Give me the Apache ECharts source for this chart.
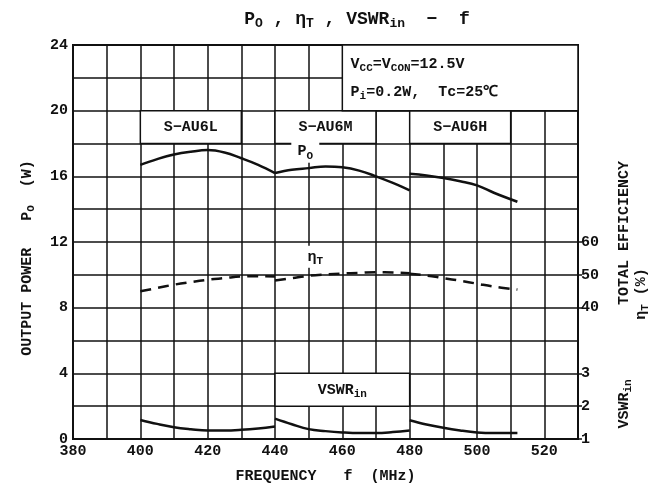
<!DOCTYPE html>
<html>
<head>
<meta charset="utf-8">
<script src="https://cdn.jsdelivr.net/npm/echarts@6/dist/echarts.min.js"></script>
<style>
  html, body { margin: 0; padding: 0; background: #fff; }
  #chart { width: 650px; height: 489px; }
</style>
</head>
<body>
<div id="chart"></div>
<script>
// frequency points (MHz) and readings for each device
const freqL = [400, 405, 410, 415, 420, 425, 430, 435, 440];
const freqM = [440, 445, 450, 455, 460, 465, 470, 475, 480];
const freqH = [480, 485, 490, 495, 500, 505, 512];

const poL = [16.7, 17.05, 17.33, 17.5, 17.6, 17.45, 17.1, 16.7, 16.2];
const poM = [16.2, 16.4, 16.5, 16.6, 16.55, 16.35, 16.0, 15.6, 15.15];
const poH = [16.15, 16.05, 15.9, 15.7, 15.45, 15.0, 14.45];

const etaL = [45.0, 46.0, 47.0, 47.8, 48.5, 49.0, 49.5, 49.6, 49.5];
const etaM = [48.3, 49.0, 49.7, 50.1, 50.4, 50.6, 50.8, 50.7, 50.5];
const etaH = [50.3, 49.8, 49.0, 48.2, 47.3, 46.4, 45.5];

const vswrL = [1.58, 1.46, 1.36, 1.3, 1.26, 1.26, 1.28, 1.32, 1.38];
const vswrM = [1.62, 1.45, 1.3, 1.24, 1.2, 1.18, 1.18, 1.21, 1.26];
const vswrH = [1.57, 1.44, 1.34, 1.26, 1.2, 1.18, 1.18];

const xTicks = [380, 400, 420, 440, 460, 480, 500, 520];
const poTicks = [0, 4, 8, 12, 16, 20, 24];
const etaTicks = [40, 50, 60];
const vswrTicks = [1, 2, 3];

const FONT = 'Liberation Mono';
const INK = '#111';

const pairs = (xs, ys) => xs.map((x, i) => [x, ys[i]]);

// rich styles: normal text + subscript (series labels use color, graphic uses fill)
const richFor = (size, key) => ({
  t: { fontFamily: FONT, fontSize: size, [key]: INK, fontWeight: 'bold', lineHeight: 28 },
  s: { fontFamily: FONT, fontSize: size - 4, [key]: INK, fontWeight: 'bold', lineHeight: 10, verticalAlign: 'bottom', padding: [0, 0, 4, 0] }
});

const chart = echarts.init(document.getElementById('chart'), null, { renderer: 'canvas' });

const solid = (data, yIdx) => ({
  type: 'line', data, yAxisIndex: yIdx, smooth: 0.4, symbol: 'none',
  lineStyle: { color: INK, width: 2.5 }, z: 5
});
const dashed = (data) => ({
  type: 'line', data, yAxisIndex: 1, smooth: 0.4, symbol: 'none',
  lineStyle: { color: INK, width: 2.5, type: [11, 7] }, z: 5
});

const option = {
  animation: false,
  backgroundColor: '#fff',
  title: {
    text: '{t|P}{s|O}{t| , }{t|η}{s|T}{t| , VSWR}{s|in}{t|  −  f}',
    left: 352, top: 3, textAlign: 'center',
    textStyle: {
      rich: {
        t: { fontFamily: FONT, fontSize: 18, color: INK },
        s: { fontFamily: FONT, fontSize: 13, color: INK, verticalAlign: 'bottom', padding: [9, 0, 0, 0] }
      }
    }
  },
  grid: { left: 73, right: 72, top: 45, bottom: 48, show: true, borderColor: INK, borderWidth: 2 },
  xAxis: {
    type: 'value', min: 380, max: 530, interval: 10,
    name: 'FREQUENCY   f  (MHz)', nameLocation: 'middle', nameGap: 30,
    nameTextStyle: { fontFamily: FONT, fontSize: 15, color: INK, fontWeight: 'bold' },
    axisLine: { show: true, lineStyle: { color: INK, width: 2 } },
    axisTick: { show: false },
    splitLine: { show: true, lineStyle: { color: INK, width: 1.5 } },
    axisLabel: { customValues: xTicks, fontFamily: FONT, fontSize: 15, color: INK, margin: 5, fontWeight: 'bold' }
  },
  yAxis: [
    {
      type: 'value', min: 0, max: 24, interval: 2,
      axisLine: { show: true, lineStyle: { color: INK, width: 2 } },
      axisTick: { show: false },
      splitLine: { show: true, lineStyle: { color: INK, width: 1.5 } },
      axisLabel: { customValues: poTicks, fontFamily: FONT, fontSize: 15, color: INK, margin: 5, fontWeight: 'bold' }
    },
    {
      type: 'value', min: 0, max: 120, position: 'right',
      axisLine: { show: false },
      axisTick: { show: true, customValues: etaTicks, length: 4, lineStyle: { color: INK, width: 1.5 } },
      splitLine: { show: false },
      axisLabel: { customValues: etaTicks, fontFamily: FONT, fontSize: 15, color: INK, margin: 3, fontWeight: 'bold' }
    },
    {
      type: 'value', min: 1, max: 13, position: 'right',
      axisLine: { show: false },
      axisTick: { show: true, customValues: vswrTicks, length: 4, lineStyle: { color: INK, width: 1.5 } },
      splitLine: { show: false },
      axisLabel: { customValues: vswrTicks, fontFamily: FONT, fontSize: 15, color: INK, margin: 3, fontWeight: 'bold' }
    }
  ],
  graphic: [
    {
      type: 'text', x: 27, y: 258, rotation: Math.PI / 2,
      style: {
        text: '{t|OUTPUT POWER   P}{s|O}{t|  (W)}', align: 'center', verticalAlign: 'middle',
        rich: richFor(15, 'fill')
      }
    },
    {
      type: 'text', x: 624, y: 233, rotation: Math.PI / 2,
      style: { text: 'TOTAL EFFICIENCY', font: 'bold 15px "' + FONT + '"', fill: INK, align: 'center', verticalAlign: 'middle' }
    },
    {
      type: 'text', x: 641, y: 294, rotation: Math.PI / 2,
      style: {
        text: '{t|η}{s|T}{t| (%)}', align: 'center', verticalAlign: 'middle',
        rich: richFor(15, 'fill')
      }
    },
    {
      type: 'text', x: 624, y: 404, rotation: Math.PI / 2,
      style: {
        text: '{t|VSWR}{s|in}', align: 'center', verticalAlign: 'middle',
        rich: richFor(15, 'fill')
      }
    }
  ],
  series: [
    Object.assign(solid(pairs(freqL, poL), 0), {
      markArea: {
        silent: true,
        itemStyle: { color: '#fff', borderColor: INK, borderWidth: 1.5 },
        label: {
          show: true, position: 'inside', color: INK, fontFamily: FONT, fontSize: 15, fontWeight: 'bold',
          rich: richFor(15, 'color')
        },
        data: [
          [{ coord: [400, 20], name: 'S−AU6L' }, { coord: [430, 18] }],
          [{ coord: [440, 20], name: 'S−AU6M' }, { coord: [470, 18] }],
          [{ coord: [480, 20], name: 'S−AU6H' }, { coord: [510, 18] }],
          [{ coord: [440, 4], name: '{t|VSWR}{s|in}' }, { coord: [480, 2] }],
          [{
            coord: [460, 24],
            name: '{t|V}{s|CC}{t|=V}{s|CON}{t|=12.5V}\n{t|P}{s|i}{t|=0.2W,  Tc=25℃}',
            label: { position: 'insideLeft', distance: 9 }
          }, { coord: [530, 20] }]
        ]
      },
      markPoint: {
        silent: true,
        symbol: 'rect',
        symbolSize: [28, 22],
        itemStyle: { color: '#fff' },
        label: {
          show: true, position: 'inside', color: INK,
          formatter: (p) => p.name,
          rich: richFor(15, 'color')
        },
        data: [
          { coord: [449, 17.5], name: '{t|P}{s|O}' },
          { coord: [452, 11.1], name: '{t|η}{s|T}' }
        ]
      }
    }),
    solid(pairs(freqM, poM), 0),
    solid(pairs(freqH, poH), 0),
    dashed(pairs(freqL, etaL)),
    dashed(pairs(freqM, etaM)),
    dashed(pairs(freqH, etaH)),
    solid(pairs(freqL, vswrL), 2),
    solid(pairs(freqM, vswrM), 2),
    solid(pairs(freqH, vswrH), 2)
  ]
};

chart.setOption(option);
</script>
</body>
</html>
